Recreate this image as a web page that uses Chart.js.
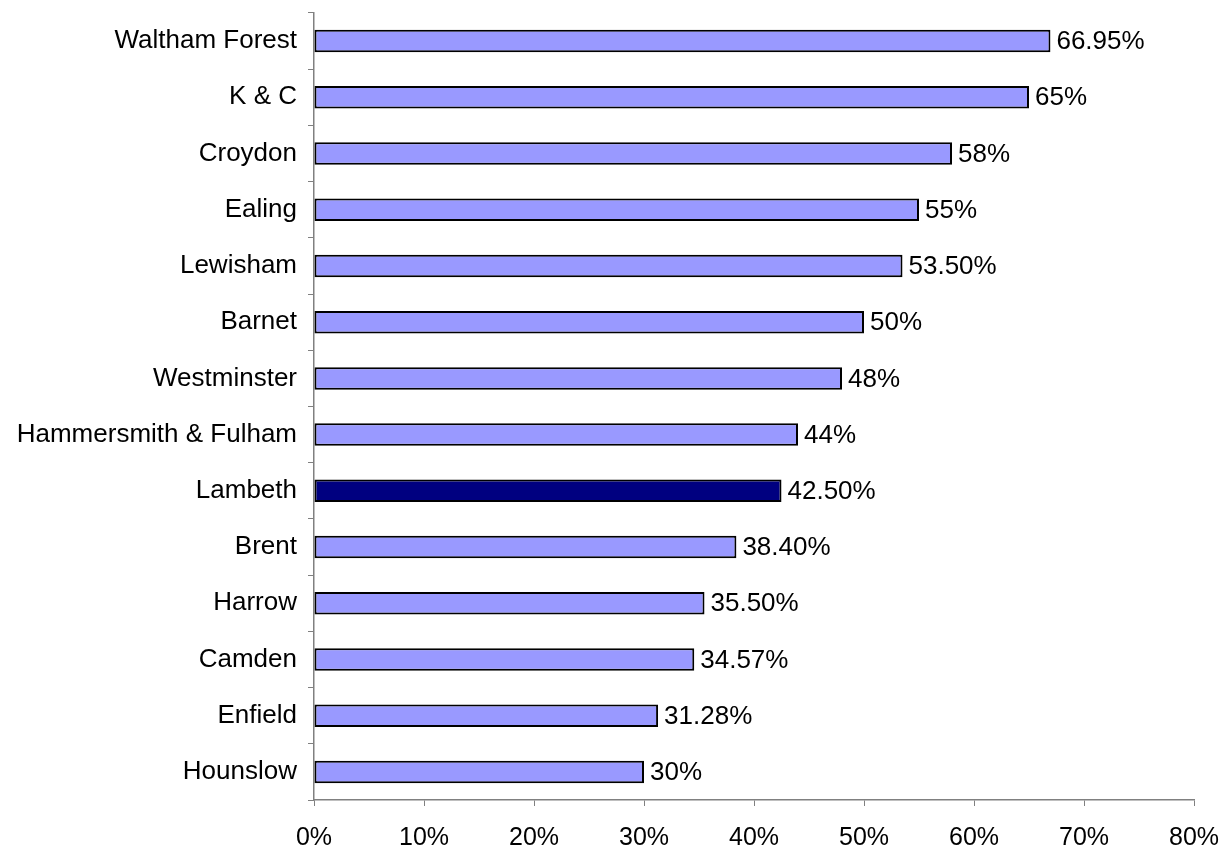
<!DOCTYPE html>
<html>
<head>
<meta charset="utf-8">
<script src="https://cdn.jsdelivr.net/npm/chart.js@4"></script>
<style>
  html, body { margin: 0; padding: 0; background: #fff; }
  #wrap { width: 1222px; height: 849px; }
</style>
</head>
<body>
<div id="wrap"><canvas id="boroughs-chart"></canvas></div>
<script>
// boroughs, top to bottom
var boroughs = ["Waltham Forest", "K & C", "Croydon", "Ealing", "Lewisham", "Barnet",
  "Westminster", "Hammersmith & Fulham", "Lambeth", "Brent", "Harrow", "Camden",
  "Enfield", "Hounslow"];
var percentValues = [66.95, 65, 58, 55, 53.5, 50, 48, 44, 42.5, 38.4, 35.5, 34.57, 31.28, 30];
var highlightBorough = "Lambeth";
var xTickMin = 0;
var xTickMax = 80;
var xTickStep = 10;

var fontFam = "'Liberation Sans', Arial, sans-serif";

function fmtPct(v) {
  return (Number.isInteger(v) ? v : v.toFixed(2)) + "%";
}

var barColors = boroughs.map(function (b) {
  return b === highlightBorough ? "#000080" : "#9999FF";
});

// value labels at the end of every bar
var endLabels = {
  id: "endLabels",
  afterDatasetsDraw: function (chart) {
    var ctx = chart.ctx;
    var meta = chart.getDatasetMeta(0);
    ctx.save();
    ctx.font = "26px " + fontFam;
    ctx.fillStyle = "#000";
    ctx.textAlign = "left";
    ctx.textBaseline = "middle";
    meta.data.forEach(function (bar, i) {
      ctx.fillText(fmtPct(percentValues[i]), bar.x + 6, bar.y + 1);
    });
    ctx.restore();
  }
};

var ctx = document.getElementById("boroughs-chart").getContext("2d");
var chart = new Chart(ctx, {
  type: "bar",
  data: {
    labels: boroughs,
    datasets: [{
      data: percentValues,
      backgroundColor: barColors,
      borderColor: "#000",
      borderWidth: 2,
      borderSkipped: false,
      categoryPercentage: 1,
      barPercentage: 0.4
    }]
  },
  options: {
    indexAxis: "y",
    responsive: true,
    maintainAspectRatio: false,
    animation: false,
    layout: { padding: { top: 13, right: 28, left: 0, bottom: 0 } },
    plugins: {
      legend: { display: false },
      tooltip: { enabled: false }
    },
    scales: {
      x: {
        min: xTickMin,
        max: xTickMax,
        afterFit: function (s) {
          s.height = 49;
          s.paddingLeft = 0;
          s.paddingRight = 0;
        },
        grid: {
          drawOnChartArea: false,
          drawTicks: true,
          tickLength: 6,
          color: "#808080"
        },
        border: { color: "#808080", width: 1.5 },
        ticks: {
          stepSize: xTickStep,
          padding: 17,
          color: "#000",
          maxRotation: 0,
          font: { size: 25, family: fontFam },
          callback: function (v) { return v + "%"; }
        }
      },
      y: {
        afterFit: function (s) {
          s.width = 314;
          s.paddingTop = 0;
          s.paddingBottom = 0;
        },
        grid: {
          offset: true,
          drawOnChartArea: false,
          drawTicks: true,
          tickLength: 6,
          color: "#808080"
        },
        border: { color: "#808080", width: 1.5 },
        ticks: {
          padding: 11,
          color: "#000",
          autoSkip: false,
          font: { size: 26, family: fontFam }
        }
      }
    }
  },
  plugins: [endLabels]
});
</script>
</body>
</html>
